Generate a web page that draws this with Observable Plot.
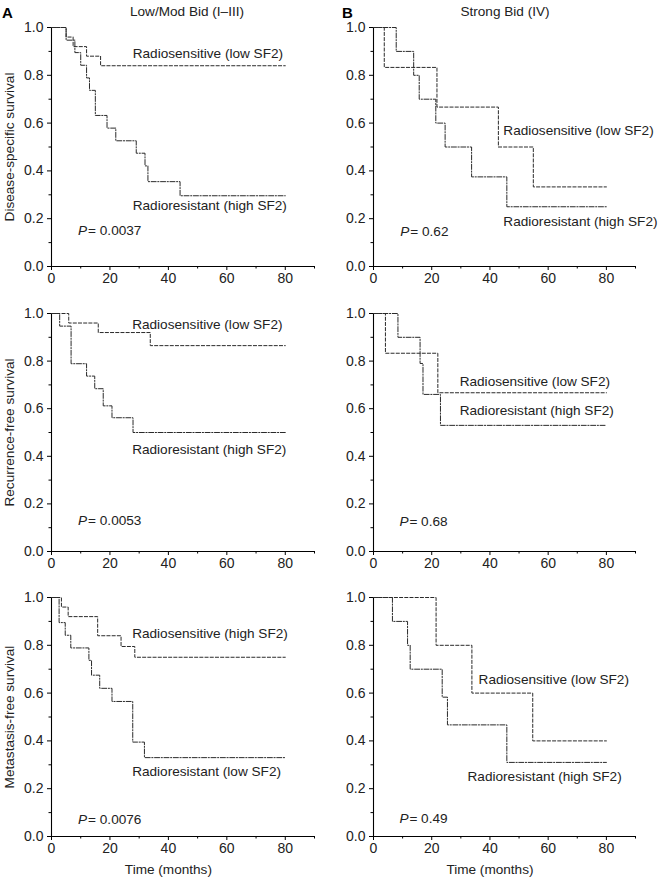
<!DOCTYPE html>
<html><head><meta charset="utf-8">
<script src="https://cdn.jsdelivr.net/npm/d3@7"></script>
<script src="https://cdn.jsdelivr.net/npm/@observablehq/plot@0.6"></script>
<style>
body{margin:0;background:#fff;}
#fig{position:relative;width:659px;height:880px;overflow:hidden;font-family:"Liberation Sans",Arial,Helvetica,sans-serif;color:#222;}
.panel{position:absolute;}
.hdr{position:absolute;font-size:14px;white-space:nowrap;line-height:1;}
</style></head><body><div id="fig"></div>
<script>
// ---- data (months, survival fraction) ----
// Disease-specific survival, Low/Mod Bid (I–III)
const dssLowSensT = [0, 5, 7.4, 12, 16.8, 80];
const dssLowSensS = [1, 0.96, 0.92, 0.88, 0.84, 0.84];
const dssLowResT  = [0, 5, 8, 10, 12, 13, 15, 19, 22, 29, 32, 33, 44, 80];
const dssLowResS  = [1, 0.947, 0.895, 0.842, 0.789, 0.737, 0.632, 0.579, 0.526, 0.474, 0.421, 0.355, 0.296, 0.296];
// Disease-specific survival, Strong Bid (IV)
const dssStrSensT = [0, 3.7, 21.8, 42.9, 54.9, 80];
const dssStrSensS = [1, 0.833, 0.667, 0.5, 0.333, 0.333];
const dssStrResT  = [0, 7.8, 13.8, 15.7, 21.4, 24.6, 33.7, 45.8, 80];
const dssStrResS  = [1, 0.9, 0.8, 0.7, 0.6, 0.5, 0.375, 0.25, 0.25];
// Recurrence-free survival, Low/Mod
const rfsLowSensT = [0, 5.9, 16, 33.8, 80];
const rfsLowSensS = [1, 0.96, 0.92, 0.865, 0.865];
const rfsLowResT  = [0, 2.8, 6.7, 12, 14.8, 17.7, 20.7, 27.9, 80];
const rfsLowResS  = [1, 0.947, 0.789, 0.737, 0.684, 0.612, 0.562, 0.5, 0.5];
// Recurrence-free survival, Strong
const rfsStrSensT = [0, 4.1, 22.1, 80];
const rfsStrSensS = [1, 0.833, 0.667, 0.667];
const rfsStrResT  = [0, 8.4, 16, 17, 23, 80];
const rfsStrResS  = [1, 0.9, 0.79, 0.66, 0.53, 0.53];
// Metastasis-free survival, Low/Mod
const mfsLowSensT = [0, 3.4, 5.7, 15.8, 23.8, 28.5, 80];
const mfsLowSensS = [1, 0.96, 0.92, 0.84, 0.795, 0.75, 0.75];
const mfsLowResT  = [0, 2.6, 4.7, 6.6, 12.8, 13.7, 16.5, 20.7, 27.8, 31.8, 80];
const mfsLowResS  = [1, 0.895, 0.842, 0.789, 0.737, 0.675, 0.62, 0.565, 0.395, 0.33, 0.33];
// Metastasis-free survival, Strong
const mfsStrSensT = [0, 21.5, 33.8, 54.7, 80];
const mfsStrSensS = [1, 0.8, 0.6, 0.4, 0.4];
const mfsStrResT  = [0, 6.5, 11.7, 12.6, 23.6, 25.4, 45.8, 80];
const mfsStrResS  = [1, 0.9, 0.8, 0.7, 0.583, 0.467, 0.31, 0.31];

const yMajor = [0, 0.2, 0.4, 0.6, 0.8, 1.0];
const yMinor = [0.1, 0.3, 0.5, 0.7, 0.9];
const xMajor = [0, 20, 40, 60, 80];
const xMinor = [10, 30, 50, 70, 90];
const colTitles = ["Low/Mod Bid (I\u2013III)", "Strong Bid (IV)"];
const colLetters = ["A", "B"];
const rowLabels = ["Disease-specific survival", "Recurrence-free survival", "Metastasis-free survival"];
const pValues = [["0.0037", "0.62"], ["0.0053", "0.68"], ["0.0076", "0.49"]];

// ---- layout ----
const FONT = '"Liberation Sans", Arial, Helvetica, sans-serif';
const fig = document.getElementById("fig");
const cols = [
  {left: 0, width: 330, ml: 51, mr: 16},
  {left: 330, width: 329, ml: 43, mr: 24}
];
const rows = [
  {top: 0, mt: 27, fh: 239, mb: 24},
  {top: 286, mt: 27, fh: 238, mb: 25},
  {top: 570, mt: 27, fh: 239, mb: 44}
];
const ink = "#2a2a2a";
const sensDash = "3.2,2";
const resDash = "5,1.6,1.2,1.6";
const LAB = 13.6;

const panels = [
  {r:0,c:0, sT:dssLowSensT, sS:dssLowSensS, rT:dssLowResT, rS:dssLowResS,
   sLab:"Radiosensitive (low SF2)", sPos:[27.8,0.89], rLab:"Radioresistant (high SF2)", rPos:[27.8,0.255], pPos:[9.1,0.15]},
  {r:0,c:1, sT:dssStrSensT, sS:dssStrSensS, rT:dssStrResT, rS:dssStrResS,
   sLab:"Radiosensitive (low SF2)", sPos:[44.6,0.567], rLab:"Radioresistant (high SF2)", rPos:[44.6,0.189], pPos:[9.2,0.144]},
  {r:1,c:0, sT:rfsLowSensT, sS:rfsLowSensS, rT:rfsLowResT, rS:rfsLowResS,
   sLab:"Radiosensitive (low SF2)", sPos:[27.6,0.955], rLab:"Radioresistant (high SF2)", rPos:[27.6,0.429], pPos:[9.1,0.129]},
  {r:1,c:1, sT:rfsStrSensT, sS:rfsStrSensS, rT:rfsStrResT, rS:rfsStrResS,
   sLab:"Radiosensitive (low SF2)", sPos:[29.6,0.713], rLab:"Radioresistant (high SF2)", rPos:[29.6,0.593], pPos:[8.9,0.124]},
  {r:2,c:0, sT:mfsLowSensT, sS:mfsLowSensS, rT:mfsLowResT, rS:mfsLowResS,
   sLab:"Radiosensitive (high SF2)", sPos:[27.6,0.848], rLab:"Radioresistant (low SF2)", rPos:[27.6,0.27], pPos:[9.1,0.069]},
  {r:2,c:1, sT:mfsStrSensT, sS:mfsStrSensS, rT:mfsStrResT, rS:mfsStrResS,
   sLab:"Radiosensitive (low SF2)", sPos:[36.1,0.658], rLab:"Radioresistant (high SF2)", rPos:[32.3,0.252], pPos:[8.9,0.073]}
];

for (const p of panels) {
  const C = cols[p.c], R = rows[p.r];
  const marks = [
    Plot.axisY({ticks: yMajor, tickSize: 4, tickPadding: 4, tickFormat: d => d.toFixed(1), label: null, fontSize: 14, stroke: "#000", color: "#222"}),
    Plot.axisY({ticks: yMinor, tickSize: 2.5, tickFormat: () => "", label: null, stroke: "#000"}),
    Plot.axisX({ticks: xMajor, tickSize: 4, tickPadding: 3, tickFormat: d => String(d), label: null, fontSize: 14, stroke: "#000", color: "#222"}),
    Plot.axisX({ticks: xMinor, tickSize: 2.5, tickFormat: () => "", label: null, stroke: "#000"}),
    Plot.ruleX([0], {y1: 0, y2: 1, stroke: "#000", strokeWidth: 1.1}),
    Plot.ruleY([0], {x1: 0, x2: 90, stroke: "#000", strokeWidth: 1.1}),
    Plot.line(p.sT, {x: p.sT, y: p.sS, curve: "step-after", stroke: ink, strokeWidth: 1, strokeDasharray: sensDash}),
    Plot.line(p.rT, {x: p.rT, y: p.rS, curve: "step-after", stroke: ink, strokeWidth: 1, strokeDasharray: resDash}),
    Plot.text([0], {x: [p.sPos[0]], y: [p.sPos[1]], text: [p.sLab], textAnchor: "start", fontSize: LAB, fill: "#222"}),
    Plot.text([0], {x: [p.rPos[0]], y: [p.rPos[1]], text: [p.rLab], textAnchor: "start", fontSize: LAB, fill: "#222"}),
    Plot.text([0], {x: [p.pPos[0]], y: [p.pPos[1]], text: ["P"], textAnchor: "start", fontSize: LAB, fontStyle: "italic", fill: "#222"}),
    Plot.text([0], {x: [p.pPos[0]], y: [p.pPos[1]], text: ["= " + pValues[p.r][p.c]], dx: 10, textAnchor: "start", fontSize: LAB, fill: "#222"})
  ];
  if (p.c === 0) {
    marks.push(Plot.text([0], {frameAnchor: "left", text: [rowLabels[p.r]], rotate: -90, dx: -42, textAnchor: "middle", lineAnchor: "middle", fontSize: LAB, fill: "#222"}));
  }
  if (p.r === 2) {
    marks.push(Plot.text([0], {x: [40], frameAnchor: "bottom", dy: 37, text: ["Time (months)"], textAnchor: "middle", fontSize: LAB, fill: "#222"}));
  }
  const svg = Plot.plot({
    width: C.width,
    height: R.mt + R.fh + R.mb,
    marginLeft: C.ml, marginRight: C.mr, marginTop: R.mt, marginBottom: R.mb,
    x: {domain: [0, 90], axis: null},
    y: {domain: [0, 1], axis: null},
    style: {fontFamily: FONT, fontSize: "14px", background: "transparent", overflow: "visible"},
    marks
  });
  const div = document.createElement("div");
  div.className = "panel";
  div.style.left = C.left + "px";
  div.style.top = R.top + "px";
  div.appendChild(svg);
  fig.appendChild(div);
}

// column headers
const hdrs = [
  {text: colLetters[0], left: 2, bold: true},
  {text: colTitles[0], center: 187},
  {text: colLetters[1], left: 342, bold: true},
  {text: colTitles[1], center: 505}
];
for (const h of hdrs) {
  const d = document.createElement("div");
  d.className = "hdr";
  d.textContent = h.text;
  d.style.top = "5px";
  if (h.bold) { d.style.fontWeight = "bold"; d.style.fontSize = "15px"; d.style.left = h.left + "px"; d.style.color = "#000"; }
  else { d.style.fontSize = LAB + "px"; d.style.left = h.center + "px"; d.style.transform = "translateX(-50%)"; }
  fig.appendChild(d);
}
</script></body></html>
